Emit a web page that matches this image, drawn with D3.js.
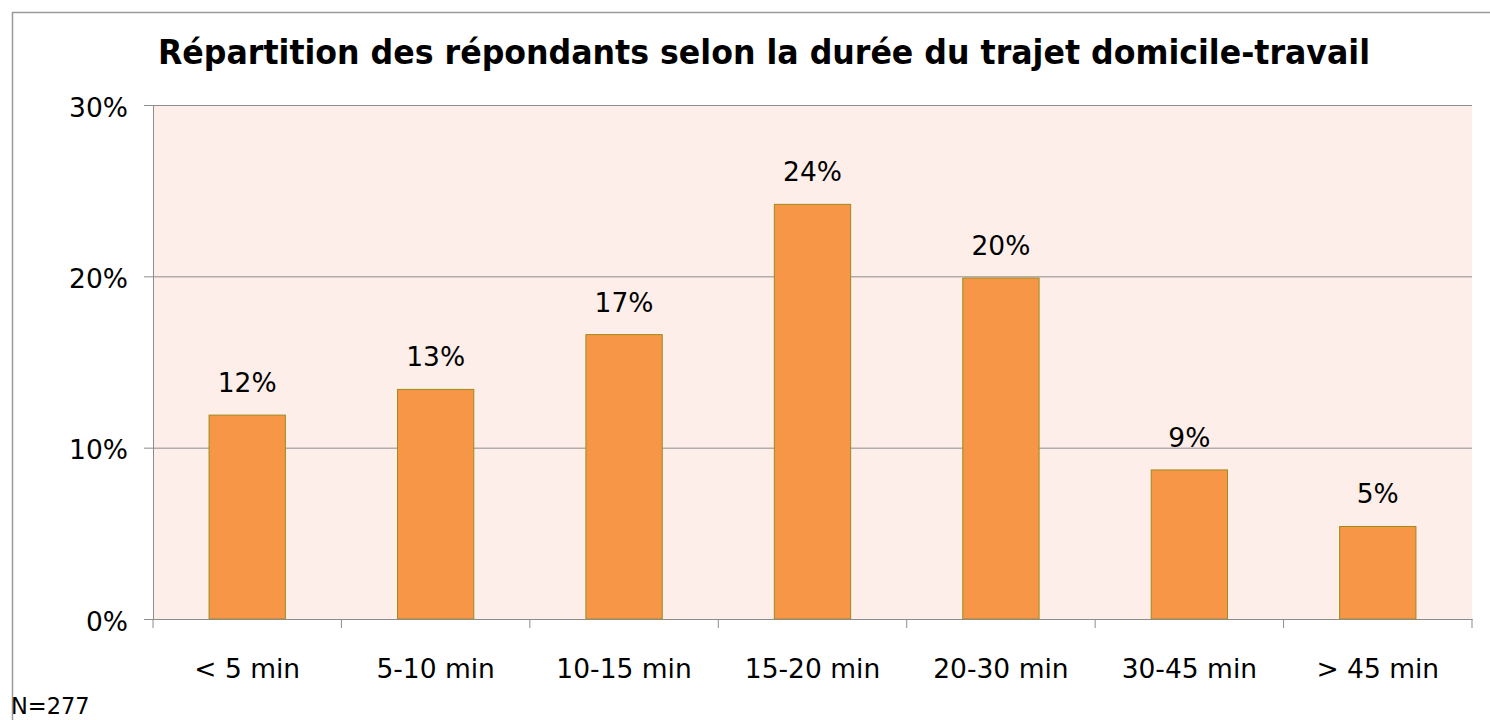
<!DOCTYPE html>
<html><head><meta charset="utf-8">
<script src="https://cdn.jsdelivr.net/npm/d3@7"></script>
<style>body{margin:0;background:#fff}svg{display:block}</style>
</head><body>
<svg id="c" width="1490" height="720"></svg>
<script>
const categories = ["< 5 min","5-10 min","10-15 min","15-20 min","20-30 min","30-45 min","> 45 min"];
const values = [11.9, 13.4, 16.6, 24.2, 19.9, 8.7, 5.4];
const labels = ["12%","13%","17%","24%","20%","9%","5%"];
const yTicks = [0, 10, 20, 30];
const title = "Répartition des répondants selon la durée du trajet domicile-travail";
const note = "N=277";

const svg = d3.select("#c");
const font = "'DejaVu Sans', Verdana, sans-serif";
const fs = 26.5;
const m = {left:153, right:1472, top:105, bottom:619};

// outer frame
svg.append("path").attr("d","M12.5,720 V12.5 H1490").attr("fill","none").attr("stroke","#9a9a9a").attr("stroke-width",1.5);

const x = d3.scaleBand().domain(categories).range([m.left, m.right]).paddingInner(0).paddingOuter(0);
const y = d3.scaleLinear().domain([0,30]).range([m.bottom, m.top]);

svg.append("rect").attr("x",m.left).attr("y",m.top).attr("width",m.right-m.left).attr("height",m.bottom-m.top).attr("fill","#fdeeea");

// gridlines
svg.append("g").selectAll("line").data(yTicks.filter(d=>d>0)).join("line")
  .attr("x1",m.left).attr("x2",m.right).attr("y1",d=>y(d)+0.5).attr("y2",d=>y(d)+0.5)
  .attr("stroke","#8c8c8c").attr("stroke-width",1);

// bars
const bw = x.bandwidth()*0.405;
svg.append("g").selectAll("rect").data(values).join("rect")
  .attr("x",(d,i)=>x(categories[i])+x.bandwidth()/2-bw/2)
  .attr("y",d=>y(d)).attr("width",bw).attr("height",d=>y(0)-y(d))
  .attr("fill","#f79646").attr("stroke","#9c8c1c").attr("stroke-width",1);

// data labels
svg.append("g").selectAll("text").data(values).join("text")
  .attr("x",(d,i)=>x(categories[i])+x.bandwidth()/2)
  .attr("y",d=>y(d)-23).attr("text-anchor","middle")
  .attr("font-family",font).attr("font-size",fs).attr("fill","#000")
  .text((d,i)=>labels[i]);

// y axis
const ya = d3.axisLeft(y).tickValues(yTicks).tickFormat(d=>d+"%").tickSize(9).tickPadding(16);
const gy = svg.append("g").attr("transform",`translate(${m.left},0)`).call(ya);
gy.select(".domain").attr("stroke","#8c8c8c");
gy.selectAll(".tick line").attr("stroke","#8c8c8c");
gy.selectAll(".tick text").attr("font-family",font).attr("font-size",fs).attr("fill","#000").attr("dy","0.42em");

// x axis
const xa = d3.axisBottom(x).tickSize(0).tickPadding(0);
const gx = svg.append("g").attr("transform",`translate(0,${m.bottom})`).call(xa);
gx.select(".domain").attr("stroke","#8c8c8c").attr("stroke-width",1.2);
gx.selectAll(".tick text").attr("font-family",font).attr("font-size",fs).attr("fill","#000")
  .attr("y",59).attr("dy",0);
// category boundary ticks
const bounds = categories.map(c=>x(c)).concat([m.right]);
gx.append("g").selectAll("line").data(bounds).join("line")
  .attr("x1",d=>d).attr("x2",d=>d).attr("y1",0).attr("y2",9).attr("stroke","#8c8c8c");

// title
svg.append("text").attr("x",158).attr("y",64)
  .attr("font-family",font).attr("font-weight","bold").attr("font-size",34).attr("fill","#000")
  .attr("textLength",1212).attr("lengthAdjust","spacingAndGlyphs").text(title);

// note
svg.append("text").attr("x",11).attr("y",714).attr("font-family",font).attr("font-size",22.5).attr("fill","#000").text(note);
</script>
</body></html>
